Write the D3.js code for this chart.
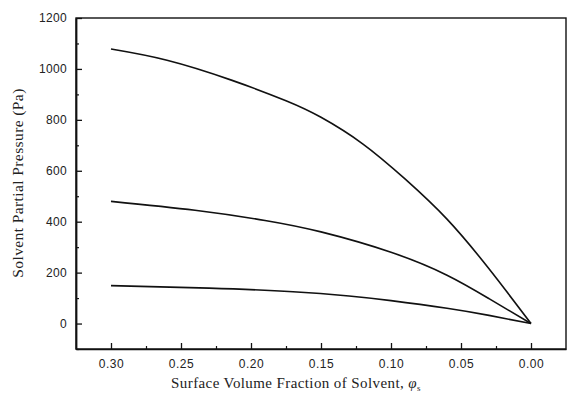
<!DOCTYPE html>
<html><head><meta charset="utf-8">
<script src="https://cdn.jsdelivr.net/npm/d3@7"></script>
<style>body{margin:0;background:#fff}svg{display:block}</style>
</head><body><svg id="c" width="567" height="398"></svg>
<script>
const xTicks = [0.30, 0.25, 0.20, 0.15, 0.10, 0.05, 0.00];
const xTickLabels = ["0.30", "0.25", "0.20", "0.15", "0.10", "0.05", "0.00"];
const yTicks = [0, 200, 400, 600, 800, 1000, 1200];
const curveHighPhi = [0.30, 0.26, 0.214, 0.175, 0.15, 0.12, 0.09, 0.06, 0.03, 0.0];
const curveHigh = [1078, 1034, 956, 875, 810, 705, 568, 410, 215, 0];
const curveMidPhi = [0.30, 0.24, 0.19, 0.15, 0.10, 0.06, 0.03, 0.0];
const curveMid = [480, 445, 405, 360, 280, 190, 98, 0];
const curveLowPhi = [0.30, 0.23, 0.17, 0.13, 0.10, 0.06, 0.03, 0.0];
const curveLow = [149, 139, 125, 108, 90, 60, 32, 0];

const svg = d3.select("#c");
const L = 76, R = 566, T = 18, B = 349;
const x = d3.scaleLinear().domain([0.325, -0.025]).range([L, R]);
const y = d3.scaleLinear().domain([-100, 1200]).range([B, T]);

svg.append("rect").attr("x", L).attr("y", T).attr("width", R - L).attr("height", B - T)
  .attr("fill", "none").attr("stroke", "#111").attr("stroke-width", 1.4);

const sans = "Liberation Sans, Arial, sans-serif";
const serif = "Liberation Serif, Times New Roman, serif";

const gx = svg.append("g").attr("transform", `translate(0,${B})`)
  .call(d3.axisBottom(x).tickValues(xTicks).tickFormat((d, i) => xTickLabels[i]).tickSizeInner(-6).tickSizeOuter(0).tickPadding(10));
gx.select(".domain").attr("stroke", "#111").attr("stroke-width", 1.4);
gx.selectAll(".tick line").attr("stroke", "#111").attr("stroke-width", 1.3);
gx.selectAll("text").attr("font-family", sans).attr("font-size", 12).attr("fill", "#222").attr("letter-spacing", 0.5);
const gxm = svg.append("g").attr("transform", `translate(0,${B})`)
  .call(d3.axisBottom(x).tickValues(d3.range(0.275, -0.02, -0.05)).tickFormat("").tickSizeInner(-3).tickSizeOuter(0));
gxm.select(".domain").remove();
gxm.selectAll(".tick line").attr("stroke", "#111").attr("stroke-width", 1.2);

const gy = svg.append("g").attr("transform", `translate(${L},0)`)
  .call(d3.axisLeft(y).tickValues(yTicks).tickFormat(d3.format("d")).tickSizeInner(-6).tickSizeOuter(0).tickPadding(9));
gy.select(".domain").attr("stroke", "#111").attr("stroke-width", 1.8);
gy.selectAll(".tick line").attr("stroke", "#111").attr("stroke-width", 1.3);
gy.selectAll("text").attr("font-family", sans).attr("font-size", 12).attr("fill", "#222").attr("letter-spacing", 0.3);
const gym = svg.append("g").attr("transform", `translate(${L},0)`)
  .call(d3.axisLeft(y).tickValues(d3.range(-100, 1200, 200)).tickFormat("").tickSizeInner(-3).tickSizeOuter(0));
gym.select(".domain").remove();
gym.selectAll(".tick line").attr("stroke", "#111").attr("stroke-width", 1.2);

const line = d3.line().x(d => x(d[0])).y(d => y(d[1])).curve(d3.curveNatural);
[[curveHighPhi, curveHigh], [curveMidPhi, curveMid], [curveLowPhi, curveLow]].forEach(([p, v]) => {
  svg.append("path").datum(p.map((d, i) => [d, v[i]]))
    .attr("d", line).attr("fill", "none").attr("stroke", "#111").attr("stroke-width", 1.6);
});

svg.append("text").attr("transform", `translate(23,183) rotate(-90)`)
  .attr("text-anchor", "middle").attr("font-family", serif).attr("font-size", 15.5).attr("fill", "#222")
  .attr("letter-spacing", 0.4)
  .text("Solvent Partial Pressure (Pa)");
const xt = svg.append("text").attr("x", 296).attr("y", 388)
  .attr("text-anchor", "middle").attr("font-family", serif).attr("font-size", 15).attr("fill", "#222")
  .attr("letter-spacing", 0.4);
xt.append("tspan").text("Surface Volume Fraction of Solvent, ");
xt.append("tspan").attr("font-style", "italic").text("φ");
xt.append("tspan").attr("font-size", 9).attr("dy", 3).text("s");
</script></body></html>
